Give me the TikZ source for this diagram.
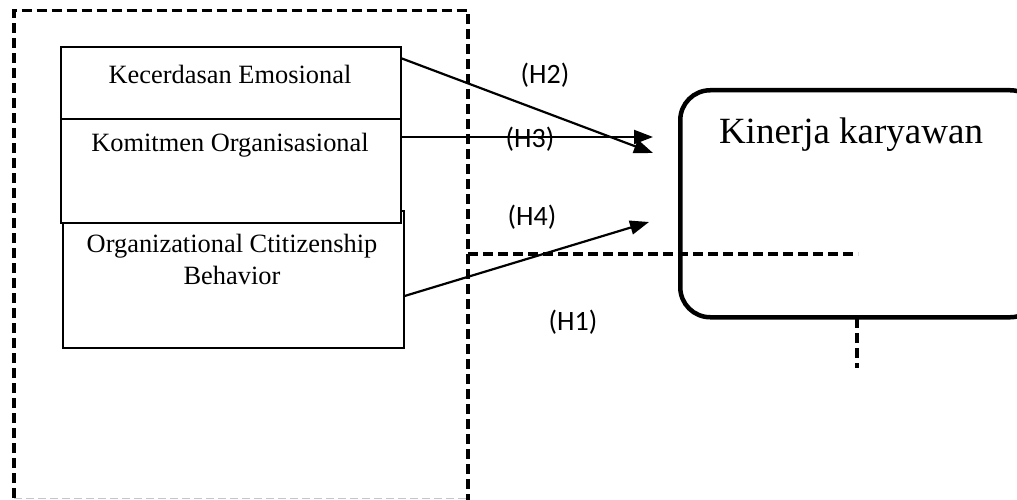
\documentclass[tikz,border=0pt]{standalone}
\usepackage{fontspec}
\setmainfont{Liberation Serif}
\newfontfamily\calib{Carlito}
\usetikzlibrary{arrows.meta,calc}
\tikzset{
  box/.style={draw=black, fill=white, line width=1.6pt, anchor=north west, inner sep=0pt},
  boxtext/.style={font=\fontsize{26.4}{31}\selectfont, align=center, inner sep=0pt},
  hlabel/.style={font=\calib\fontsize{28}{33}\selectfont, inner sep=0pt},
  conn/.style={line width=2.2pt, -{Triangle[length=19pt,width=14pt]}},
  dash3/.style={line width=3.3pt, dash pattern=on 10pt off 5pt},
}
\begin{document}
\begin{tikzpicture}[x=1pt,y=-1pt]
\useasboundingbox (0,0) rectangle (1017,500);
\clip (0,0) rectangle (1017,500);
% outer dashed frame
\draw[dash3] (14,498) -- (14,10.5) -- (468,10.5) -- (468,500);
\draw[gray!45, line width=1pt, dash pattern=on 8pt off 4pt] (14,498) -- (468,498);
% boxes
\node[box, minimum width=341pt, minimum height=137pt] (ocb) at (62,210) {};
\node[box, minimum width=340pt, minimum height=104pt] (ko) at (60,118) {};
\node[box, minimum width=340pt, minimum height=72pt] (ke) at (60,46) {};
\node[boxtext] (ket) at (230,74) {Kecerdasan Emosional};
\node[boxtext] (kot) at (230,145) {Komitmen Organisasional};
\node[boxtext] (ocbt) at (232,259) {Organizational Ctitizenship\\[1pt]Behavior};
% target
\node[draw=black, line width=4.5pt, rounded corners=30pt, anchor=north west,
      minimum width=360pt, minimum height=227pt, inner sep=0pt] (kk) at (678,88) {};
\node[font=\fontsize{37}{44}\selectfont, inner sep=0pt] (kkt) at (851,135) {Kinerja karyawan};
% dashed lines
\coordinate (dh1) at (468,254);
\coordinate (dh2) at (858,254);
\draw[dash3] (dh1) -- (dh2);
\coordinate (dv1) at (857,318);
\coordinate (dv2) at (857,368);
\draw[dash3] (dv1) -- (dv2);
% arrows
\coordinate (e2) at (653,153);
\coordinate (e3) at (653,137);
\coordinate (e4) at (649,222);
\draw[conn] ($(ke.north east)+(-1,12)$) -- (e2);
\draw[conn] ($(ko.north east)+(-1,19)$) -- (e3);
\draw[conn] ($(ocb.north east)+(0,86)$) -- (e4);
% labels
\node[hlabel] (h2) at (545,75) {(H2)};
\node[hlabel] (h3) at (530,139) {(H3)};
\node[hlabel] (h4) at (532,217) {(H4)};
\node[hlabel] (h1) at (573,322) {(H1)};
\end{tikzpicture}
\end{document}
